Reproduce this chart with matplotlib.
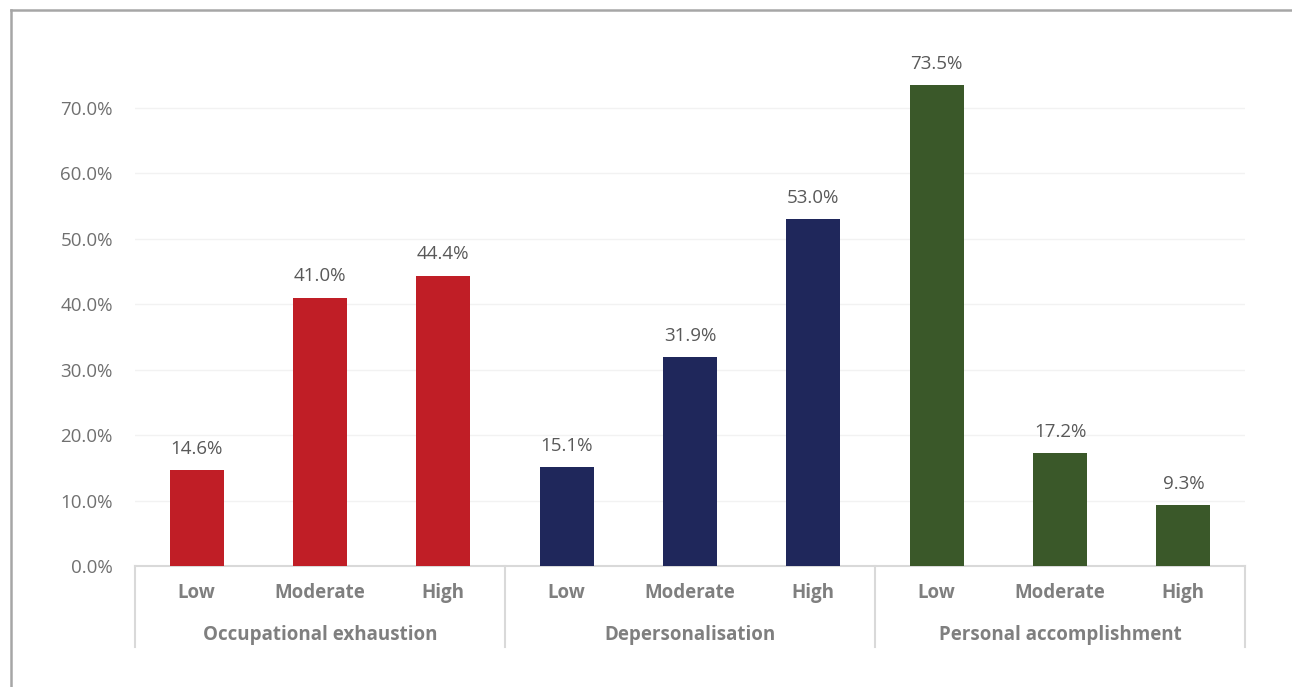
import matplotlib
matplotlib.use("Agg")
import matplotlib.pyplot as plt
from matplotlib.lines import Line2D
from matplotlib.ticker import PercentFormatter, FixedLocator

plt.rcParams["font.family"] = ["Open Sans", "DejaVu Sans"]

groups = ["Occupational exhaustion", "Depersonalisation", "Personal accomplishment"]
levels = ["Low", "Moderate", "High"]
values = [
    [14.6, 41.0, 44.4],
    [15.1, 31.9, 53.0],
    [73.5, 17.2, 9.3],
]
colors = ["#C01E26", "#1F275B", "#3A5829"]

W, H = 1292, 687
fig = plt.figure(figsize=(W / 100, H / 100), dpi=100)
x0, x1, ybase, ytop = 135, 1245, 566, 75.3
ax = fig.add_axes([x0 / W, 1 - ybase / H, (x1 - x0) / W, (ybase - ytop) / H])

# frame around the chart (only left and top visible in the reference)
fig.add_artist(Line2D([10.5 / W, 10.5 / W], [0, 1 - 10 / H], color="#a6a6a6", lw=1.8))
fig.add_artist(Line2D([10.5 / W, 1], [1 - 10 / H, 1 - 10 / H], color="#a6a6a6", lw=1.8))

pos = 0
xticks, xlabels = [], []
for g, (name, vals, c) in enumerate(zip(groups, values, colors)):
    xs = [pos + i for i in range(len(vals))]
    bars = ax.bar(xs, [v / 100 for v in vals], width=0.44, color=c, zorder=3)
    for b, v in zip(bars, vals):
        ax.annotate(f"{v:.1f}%", (b.get_x() + b.get_width() / 2, b.get_height()),
                    xytext=(0, 9), textcoords="offset points", ha="center", va="bottom",
                    fontsize=13.5, color="#595959", annotation_clip=False)
    xticks += xs
    xlabels += levels
    # group label
    ax.text(pos + 1, -(635 - ybase) / (ybase - ytop) * 0.75, name, ha="center", va="center",
            fontsize=13.5, fontweight="bold", color="#7f7f7f", transform=ax.transData)
    pos += len(vals)

ax.set_xlim(-0.5, pos - 0.5)
ax.set_ylim(0, 0.75)
ax.yaxis.set_major_locator(FixedLocator([i / 10 for i in range(8)]))
ax.yaxis.set_major_formatter(PercentFormatter(1.0, decimals=1))
ax.set_xticks(xticks)
ax.set_xticklabels(xlabels, fontsize=13.5, fontweight="bold", color="#7f7f7f")
ax.tick_params(axis="x", length=0, pad=12)
ax.tick_params(axis="y", length=0, pad=16, labelsize=13.5, labelcolor="#707070")
ax.grid(axis="y", color="#f2f2f2", lw=1, zorder=0)

for s in ["top", "right", "left"]:
    ax.spines[s].set_visible(False)
ax.spines["bottom"].set_color("#d9d9d9")
ax.spines["bottom"].set_linewidth(1.5)

# separators below the axis between groups
ylow = -(647 - ybase) / (ybase - ytop) * 0.75
for xsep in [-0.5, 2.5, 5.5, 8.5]:
    ax.add_line(Line2D([xsep, xsep], [0, ylow], color="#d9d9d9", lw=1.5, clip_on=False))

fig.savefig("out.png", dpi=100)
